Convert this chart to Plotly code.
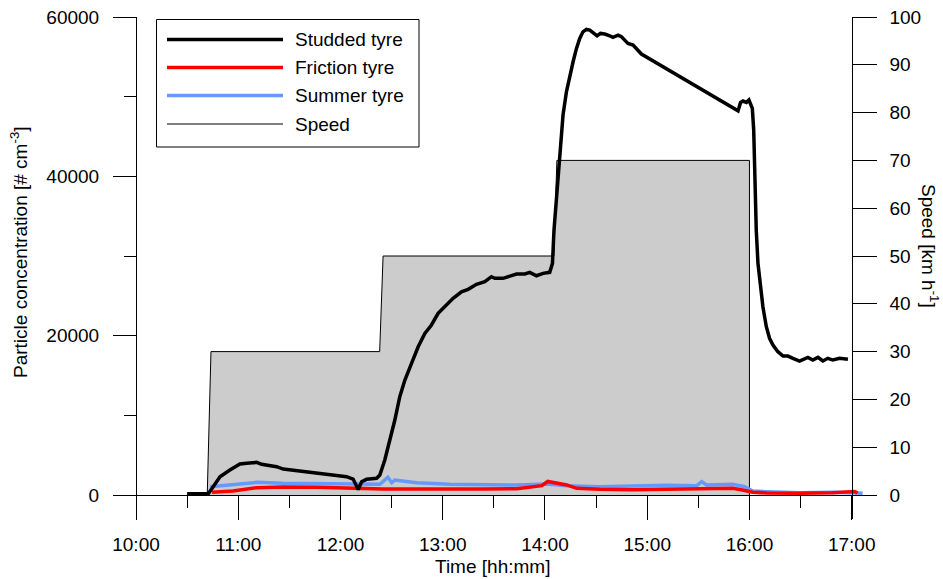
import plotly.graph_objects as go

DAY = "2000-01-01 "

# ---- data ----
studded_time = ["10:30:00", "10:42:24", "10:45:18", "10:49:18", "10:55:06", "11:01:00", "11:04:54", "11:10:48",
                "11:13:42", "11:16:42", "11:22:30", "11:26:24", "11:34:18", "11:44:00", "11:51:54", "11:57:42",
                "12:03:36", "12:07:24", "12:10:24", "12:12:24", "12:15:18", "12:21:12", "12:23:06", "12:26:00",
                "12:29:00", "12:31:54", "12:34:48", "12:37:48", "12:41:42", "12:45:36", "12:49:30", "12:53:24",
                "12:57:18", "13:01:12", "13:06:06", "13:11:00", "13:14:54", "13:19:48", "13:24:42", "13:28:36",
                "13:30:36", "13:35:24", "13:39:24", "13:43:18", "13:48:12", "13:51:06", "13:55:00", "13:58:54",
                "14:02:48", "14:04:24", "14:05:18", "14:08:06", "14:10:36", "14:12:36", "14:14:30", "14:16:30",
                "14:18:30", "14:20:24", "14:22:18", "14:24:18", "14:26:18", "14:28:12", "14:30:36", "14:32:36",
                "14:35:06", "14:38:00", "14:39:54", "14:42:54", "14:44:54", "14:46:48", "14:48:42", "14:51:42",
                "14:53:42", "14:56:36", "15:53:18", "15:54:48", "15:56:12", "15:58:12", "15:59:42", "16:01:42",
                "16:02:30", "16:03:12", "16:04:00", "16:05:00", "16:06:24", "16:07:54", "16:09:54", "16:11:48",
                "16:13:48", "16:16:42", "16:19:42", "16:22:36", "16:25:30", "16:29:24", "16:34:18", "16:37:12",
                "16:40:12", "16:43:06", "16:46:00", "16:49:00", "16:52:54", "16:57:48"]
studded_conc = [150, 150, 1040, 2300, 3140, 3890, 3980, 4100,
                3850, 3770, 3550, 3260, 3050, 2800, 2600, 2510,
                2300, 2000, 700, 1670, 1970, 2100, 2500, 4390,
                6900, 9410, 12340, 14430, 16530, 18610, 20290, 21340,
                22800, 23630, 24690, 25510, 25820, 26440, 26770, 27400,
                27200, 27200, 27520, 27740, 27740, 27950, 27520, 27820,
                27950, 29080, 33260, 41400, 47690, 50610, 52710, 54380,
                56060, 57310, 58140, 58440, 58360, 58070, 57640, 57940,
                57860, 57640, 57440, 57730, 57520, 57100, 56690, 56480,
                56060, 55350, 48230, 49280, 49450, 49280, 49570, 48530,
                45810, 39530, 33260, 29080, 26140, 23630, 21120, 19670,
                18830, 17990, 17440, 17440, 17160, 16820, 17280, 16940,
                17280, 16820, 17160, 16940, 17160, 17030]

friction_time = ["10:44:36", "10:56:54", "11:11:00", "11:26:12", "11:46:12", "12:05:30", "12:24:54", "12:44:48",
                 "13:04:12", "13:23:30", "13:43:30", "13:52:48", "13:58:06", "14:01:36", "14:12:48", "14:18:36",
                 "14:32:06", "14:51:30", "15:11:24", "15:30:48", "15:50:06", "15:56:00", "16:01:54", "16:10:06",
                 "16:29:24", "16:48:48", "16:58:48", "17:01:42", "17:03:30"]
friction_conc = [340, 500, 920, 1000, 970, 840, 750, 750,
                 720, 750, 790, 1040, 1170, 1700, 1260, 840,
                 720, 670, 720, 790, 840, 630, 340, 250,
                 210, 290, 410, 440, 250]

summer_time = ["10:43:24", "10:56:54", "11:11:00", "11:26:12", "11:46:12", "12:05:30", "12:23:06", "12:27:48",
               "12:30:06", "12:31:54", "12:44:48", "13:04:12", "13:23:30", "13:43:30", "14:01:06", "14:12:48",
               "14:32:06", "14:51:30", "15:11:24", "15:29:00", "15:32:00", "15:34:54", "15:50:06", "15:57:12",
               "16:01:54", "16:10:06", "16:29:24", "16:48:48", "16:58:48", "17:06:24"]
summer_conc = [1040, 1260, 1590, 1470, 1420, 1380, 1340, 2220,
               1540, 1880, 1540, 1340, 1260, 1260, 1380, 1170,
               1040, 1130, 1220, 1170, 1670, 1260, 1340, 1040,
               500, 410, 290, 340, 310, 210]

speed_time = ["10:41:48", "10:44:00", "12:23:00", "12:25:00", "14:05:12", "14:07:00", "16:00:00", "16:00:00"]
speed_kmh = [0, 30, 30, 50, 50, 70, 70, 0]

legend_labels = ["Studded tyre", "Friction tyre", "Summer tyre", "Speed"]
x_tick_start = "10:00"
x_range_end = "17:08:24"
conc_max = 60000
speed_max = 100

# ---- styling ----
FONT = "Liberation Sans, Arial, sans-serif"
FS = 19
BLACK = "#000000"
RED = "#ff0000"
BLUE = "#6699ff"
GRAY = "#cccccc"

# geometry (pixels in a 943x579 page)
W, H = 943, 579
L, R, T, B = 136, 77, 17, 60
PW, PH = W - L - R, H - T - B
below = 24  # px that the axes extend below zero
below_frac = below / (PH - below)
conc_lo = -conc_max * below_frac
speed_lo = -speed_max * below_frac


def t(lst):
    return [DAY + s for s in lst]


def px(xp):
    return (xp - L) / PW


def py(yp):
    return (H - B - yp) / PH


fig = go.Figure()

fig.add_trace(go.Scatter(x=t(speed_time), y=speed_kmh, mode="lines", fill="tozeroy",
                         fillcolor=GRAY, line=dict(color=BLACK, width=1), yaxis="y",
                         name=legend_labels[3], showlegend=False))
fig.add_trace(go.Scatter(x=t(summer_time), y=summer_conc, mode="lines",
                         line=dict(color=BLUE, width=3.5), yaxis="y2",
                         name=legend_labels[2], showlegend=False))
fig.add_trace(go.Scatter(x=t(friction_time), y=friction_conc, mode="lines",
                         line=dict(color=RED, width=3.5), yaxis="y2",
                         name=legend_labels[1], showlegend=False))
fig.add_trace(go.Scatter(x=t(studded_time), y=studded_conc, mode="lines",
                         line=dict(color=BLACK, width=3.5), yaxis="y2",
                         name=legend_labels[0], showlegend=False))

x_end_frac = px(136 + 7 * 102.24)

fig.update_layout(
    width=W, height=H,
    margin=dict(l=L, r=R, t=T, b=B, autoexpand=False),
    paper_bgcolor="white", plot_bgcolor="white",
    font=dict(family=FONT, size=FS, color=BLACK),
    showlegend=False,
    xaxis=dict(
        type="date",
        range=[DAY + x_tick_start, DAY + x_range_end],
        domain=[0, 1], anchor="free", position=below_frac / (1 + below_frac),
        showline=True, linecolor=BLACK, linewidth=1,
        ticks="outside", ticklen=24, tickwidth=1, tickcolor=BLACK,
        tick0=DAY + x_tick_start, dtick=3600000, tickformat="%H:%M",
        minor=dict(dtick=1800000, ticks="outside", ticklen=12, tickwidth=1, tickcolor=BLACK),
        showgrid=False, zeroline=False,
        tickfont=dict(size=FS), ticklabelstandoff=8,
    ),
    yaxis=dict(
        range=[speed_lo, speed_max], side="right", anchor="free", position=x_end_frac,
        showline=True, linecolor=BLACK, linewidth=1,
        ticks="outside", ticklen=24, tickwidth=1, tickcolor=BLACK,
        tick0=0, dtick=10, tickformat="d", showgrid=False, zeroline=False,
        tickfont=dict(size=FS), ticklabelstandoff=9,
    ),
    yaxis2=dict(
        range=[conc_lo, conc_max], side="left", overlaying="y", anchor="free", position=0,
        showline=True, linecolor=BLACK, linewidth=1,
        ticks="outside", ticklen=23, tickwidth=1, tickcolor=BLACK,
        tick0=0, dtick=20000, tickformat="d",
        minor=dict(dtick=10000, ticks="outside", ticklen=12, tickwidth=1, tickcolor=BLACK),
        showgrid=False, zeroline=False,
        tickfont=dict(size=FS), ticklabelstandoff=10,
    ),
)

# axis titles
fig.add_annotation(text="Time [hh:mm]", x=px(492), y=py(566), xref="paper", yref="paper",
                   showarrow=False, font=dict(size=FS), xanchor="center", yanchor="middle")
fig.add_annotation(text="Particle concentration [# cm<sup>-3</sup>]", x=px(19), y=py(252),
                   xref="paper", yref="paper", showarrow=False, textangle=-90,
                   font=dict(size=FS), xanchor="center", yanchor="middle")
fig.add_annotation(text="Speed [km h<sup>-1</sup>]", x=px(930), y=py(246),
                   xref="paper", yref="paper", showarrow=False, textangle=90,
                   font=dict(size=FS), xanchor="center", yanchor="middle")

# legend box (drawn manually)
fig.add_shape(type="rect", xref="paper", yref="paper", x0=px(156.5), x1=px(419), y0=py(147), y1=py(19.5),
              line=dict(color=BLACK, width=1), fillcolor="white", layer="above")
leg_rows = [39.5, 67.5, 95.5, 124]
leg_styles = [(BLACK, 3.5), (RED, 3.5), (BLUE, 3.5), (BLACK, 1)]
for lab, yy, (c, w) in zip(legend_labels, leg_rows, leg_styles):
    fig.add_shape(type="line", xref="paper", yref="paper", x0=px(167), x1=px(283), y0=py(yy), y1=py(yy),
                  line=dict(color=c, width=w), layer="above")
    fig.add_annotation(text=lab, x=px(293), y=py(yy), xref="paper", yref="paper", showarrow=False,
                       xanchor="left", yanchor="middle", font=dict(size=FS))

fig.write_html("out.html", config={"displayModeBar": False},
               post_script="document.body.style.margin='0';document.body.style.overflow='hidden';")
